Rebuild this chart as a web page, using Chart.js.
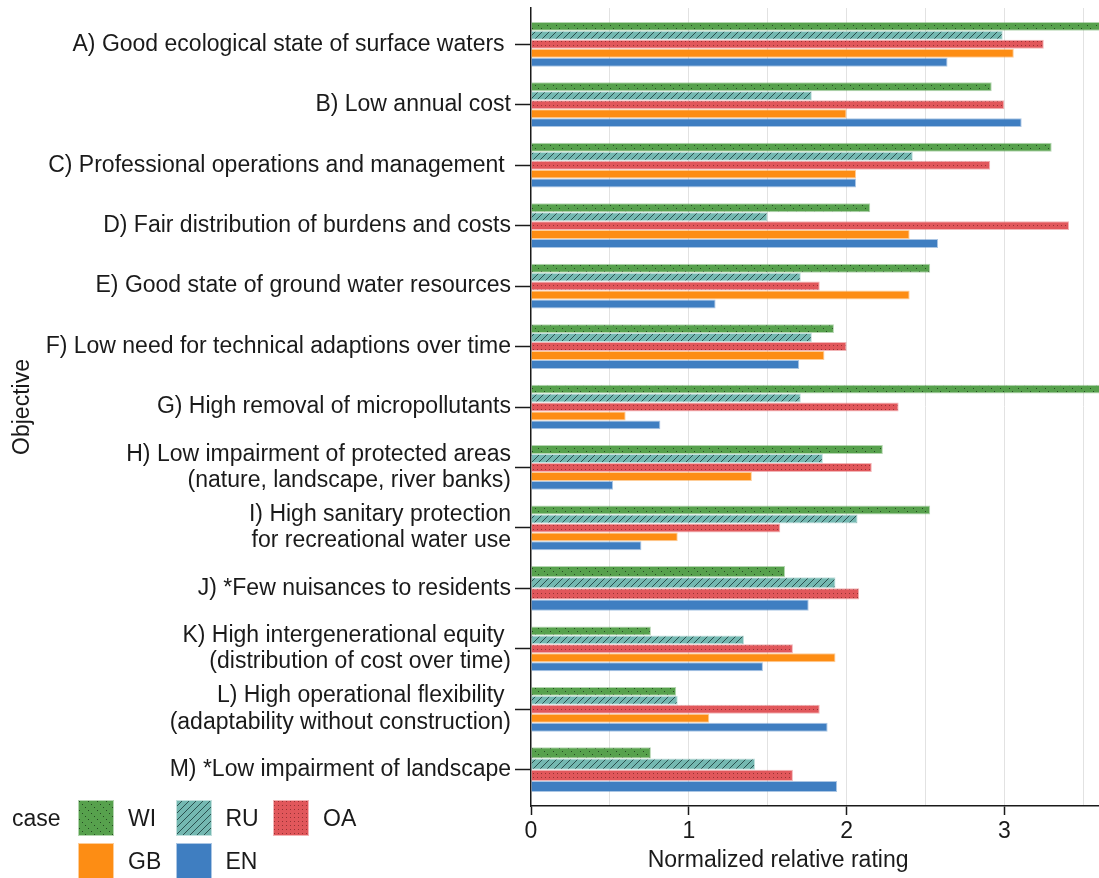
<!DOCTYPE html>
<html>
<head>
<meta charset="utf-8">
<script src="https://cdn.jsdelivr.net/npm/chart.js@4.4.1/dist/chart.umd.min.js"></script>
<style>
  html, body { margin: 0; padding: 0; background: #fff; }
  #wrap { position: relative; width: 1099px; height: 878px; overflow: hidden; }
  #legend { position: absolute; left: 0; top: 0; font-family: "Liberation Sans", Arial, Helvetica, sans-serif; font-size: 23px; color: #1a1a1a; }
  #legend .lbl { position: absolute; line-height: 36px; white-space: nowrap; }
  #legend canvas { position: absolute; }
</style>
</head>
<body>
<div id="wrap">
  <canvas id="chart" width="1099" height="878"></canvas>
  <div id="legend"></div>
</div>
<script>
const categories = [
  'A) Good ecological state of surface waters ',
  'B) Low annual cost',
  'C) Professional operations and management ',
  'D) Fair distribution of burdens and costs',
  'E) Good state of ground water resources',
  'F) Low need for technical adaptions over time',
  'G) High removal of micropollutants',
  ['H) Low impairment of protected areas', '(nature, landscape, river banks)'],
  ['I) High sanitary protection', 'for recreational water use'],
  'J) *Few nuisances to residents',
  ['K) High intergenerational equity ', '(distribution of cost over time)'],
  ['L) High operational flexibility ', '(adaptability without construction)'],
  'M) *Low impairment of landscape'
];

const caseNames = ['WI', 'RU', 'OA', 'GB', 'EN'];
const wiValues = [3.75, 2.92, 3.30, 2.15, 2.53, 1.92, 3.75, 2.23, 2.53, 1.61, 0.76, 0.92, 0.76];
const ruValues = [2.99, 1.78, 2.42, 1.50, 1.71, 1.78, 1.71, 1.85, 2.07, 1.93, 1.35, 0.93, 1.42];
const oaValues = [3.25, 3.00, 2.91, 3.41, 1.83, 2.00, 2.33, 2.16, 1.58, 2.08, 1.66, 1.83, 1.66];
const gbValues = [3.06, 2.00, 2.06, 2.40, 2.40, 1.86, 0.60, 1.40, 0.93, null, 1.93, 1.13, null];
const enValues = [2.64, 3.11, 2.06, 2.58, 1.17, 1.70, 0.82, 0.52, 0.70, 1.76, 1.47, 1.88, 1.94];

const ratingTicks = [0, 0.5, 1, 1.5, 2, 2.5, 3, 3.5];
const xTitle = 'Normalized relative rating';
const yTitle = 'Objective';
const legendTitle = 'case';

const FONT = '"Liberation Sans", Arial, Helvetica, sans-serif';
const INK = '#1a1a1a';
const FSIZE = 23;

// hatch fills, like the seaborn ones
function makePattern(color, kind) {
  const size = kind === 'dots' ? 4 : (kind === 'slash' ? 7 : 9);
  const c = document.createElement('canvas');
  c.width = size; c.height = size;
  const g = c.getContext('2d');
  g.fillStyle = color;
  g.fillRect(0, 0, size, size);
  if (kind === 'diagdots') {
    g.fillStyle = 'rgba(20,45,20,0.75)';
    g.fillRect(1, 1, 1, 1);
    g.fillRect(4, 4, 1, 1);
    g.fillRect(7, 7, 1, 1);
  } else if (kind === 'slash') {
    g.strokeStyle = 'rgba(25,55,55,0.8)';
    g.lineWidth = 1;
    g.beginPath();
    g.moveTo(-1, size + 1); g.lineTo(size + 1, -1);
    g.stroke();
  } else if (kind === 'dots') {
    g.fillStyle = 'rgba(90,20,20,0.55)';
    g.fillRect(1, 1, 1, 1);
  }
  return g.createPattern(c, 'repeat');
}

const caseColors = ['#57a14d', '#74b8b1', '#e1575b', '#fd8d14', '#3f7ec1'];
const caseHatch = ['diagdots', 'slash', 'dots', null, null];
const caseValues = [wiValues, ruValues, oaValues, gbValues, enValues];

const fills = caseColors.map((col, i) => caseHatch[i] ? makePattern(col, caseHatch[i]) : col);

const datasets = caseNames.map((name, i) => ({
  label: name,
  data: caseValues[i].map((v, j) => ({ x: v, y: j })),
  backgroundColor: fills[i],
  borderColor: caseColors[i] + '70',
  borderWidth: 1
}));

const xTitlePlugin = {
  id: 'xTitle',
  afterDraw(chart) {
    const { ctx, chartArea } = chart;
    ctx.save();
    ctx.font = FSIZE + 'px ' + FONT;
    ctx.fillStyle = INK;
    ctx.textAlign = 'center';
    ctx.textBaseline = 'middle';
    ctx.fillText(xTitle, chartArea.left + (chartArea.right - chartArea.left) * 0.435, 861);
    ctx.restore();
  }
};

new Chart(document.getElementById('chart'), {
  type: 'bar',
  data: { datasets },
  plugins: [xTitlePlugin],
  options: {
    indexAxis: 'y',
    responsive: false,
    animation: false,
    layout: { padding: { top: 8, right: 0, bottom: 0, left: 0 } },
    datasets: { bar: { categoryPercentage: 0.74, barPercentage: 1, skipNull: true } },
    plugins: { legend: { display: false }, tooltip: { enabled: false } },
    scales: {
      x: {
        type: 'linear',
        min: 0,
        max: 3.6,
        afterBuildTicks: s => { s.ticks = ratingTicks.map(v => ({ value: v })); },
        afterFit: s => { s.height = 72; s.paddingRight = 0; },
        ticks: {
          autoSkip: false,
          maxRotation: 0,
          padding: 3,
          color: INK,
          font: { family: FONT, size: FSIZE },
          callback: v => Number.isInteger(v) ? String(v) : ''
        },
        grid: {
          color: c => (c.tick && c.tick.value === 0) ? 'rgba(0,0,0,0)' : '#e2e2e2',
          lineWidth: 1,
          tickLength: 9,
          tickWidth: 1.5,
          tickColor: c => (c.tick && Number.isInteger(c.tick.value)) ? INK : 'rgba(0,0,0,0)'
        },
        border: { color: INK, width: 1.5 }
      },
      y: {
        type: 'linear',
        reverse: true,
        offset: false,
        min: -0.6,
        max: 12.6,
        afterBuildTicks: s => { s.ticks = categories.map((c, i) => ({ value: i })); },
        afterFit: s => { s.width = 531; s.paddingTop = 0; s.paddingBottom = 0; },
        ticks: {
          autoSkip: false,
          padding: 4,
          color: INK,
          font: { family: FONT, size: FSIZE, lineHeight: 1.15 },
          callback: v => categories[v]
        },
        grid: {
          offset: false,
          drawOnChartArea: false,
          tickLength: 16,
          tickWidth: 1.5,
          tickColor: INK
        },
        border: { color: INK, width: 1.5 },
        title: {
          display: true,
          text: yTitle,
          color: INK,
          font: { family: FONT, size: FSIZE },
          padding: { top: 9, bottom: 0 }
        }
      }
    }
  }
});

// legend: "case" + 3 columns of swatches
const legend = document.getElementById('legend');
const head = document.createElement('div');
head.className = 'lbl';
head.textContent = legendTitle;
head.style.left = '12px';
head.style.top = '800px';
legend.appendChild(head);
caseNames.forEach((name, i) => {
  const col = i % 3, row = Math.floor(i / 3);
  const left = 78 + col * 97.5, top = 800 + row * 43;
  const sw = document.createElement('canvas');
  sw.width = 36; sw.height = 36;
  sw.style.left = left + 'px';
  sw.style.top = top + 'px';
  const g = sw.getContext('2d');
  g.fillStyle = caseColors[i] + '70';
  g.fillRect(0, 0, 36, 36);
  g.fillStyle = caseHatch[i] ? makePattern(caseColors[i], caseHatch[i]) : caseColors[i];
  g.fillRect(1, 1, 34, 34);
  legend.appendChild(sw);
  const t = document.createElement('div');
  t.className = 'lbl';
  t.textContent = name;
  t.style.left = (left + 50) + 'px';
  t.style.top = top + 'px';
  legend.appendChild(t);
});
</script>
</body>
</html>
